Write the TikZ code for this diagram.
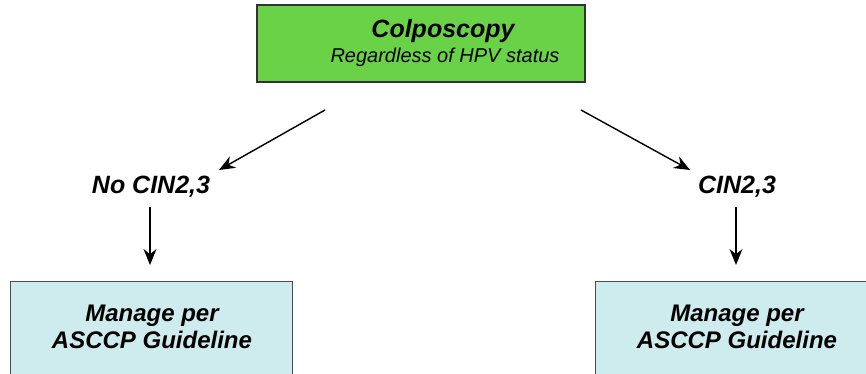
\documentclass[tikz,border=0pt]{standalone}
\usepackage{fontspec}
\setmainfont{Liberation Sans}
\usetikzlibrary{arrows.meta}
\definecolor{topgreen}{RGB}{106,210,70}
\definecolor{lightblue}{RGB}{206,236,238}
\begin{document}
\begin{tikzpicture}[x=1pt,y=-1pt,
  topbox/.style={draw=black!80,line width=1.2pt,fill=topgreen},
  botbox/.style={draw=black!70,line width=1pt,fill=lightblue},
  lbl/.style={font=\fontsize{25}{28}\selectfont\bfseries\itshape},
  mng/.style={font=\fontsize{24}{27}\selectfont\bfseries\itshape,align=center},
  arr/.style={-{Stealth[length=16pt,width=13pt]},line width=1.4pt}]
\useasboundingbox (0,0) rectangle (866,374);
\draw[topbox] (257,5) rectangle (585,82);
\node[font=\fontsize{25}{28}\selectfont\bfseries\itshape] (t1) at (443,31) {Colposcopy};
\node[font=\fontsize{20}{24}\selectfont\itshape] (t2) at (445,57) {Regardless of HPV status};
\coordinate (sl) at (325,110);
\coordinate (sr) at (581,110);
\node[lbl] (no) at (151,187) {No CIN2,3};
\node[lbl] (yes) at (737,187) {CIN2,3};
\draw[botbox] (10,281) rectangle (292,390);
\draw[botbox] (595,281) rectangle (880,390);
\node[mng] (m1) at (152,327) {Manage per\\ASCCP Guideline};
\node[mng] (m2) at (737,327) {Manage per\\ASCCP Guideline};
\coordinate (el) at (219,170);
\coordinate (er) at (690,170);
\coordinate (nb) at (150,207);
\coordinate (ne) at (150,265);
\coordinate (yb) at (736,207);
\coordinate (ye) at (736,265);
\draw[arr] (sl) -- (el);
\draw[arr] (sr) -- (er);
\draw[arr] (nb) -- (ne);
\draw[arr] (yb) -- (ye);
\end{tikzpicture}
\end{document}
